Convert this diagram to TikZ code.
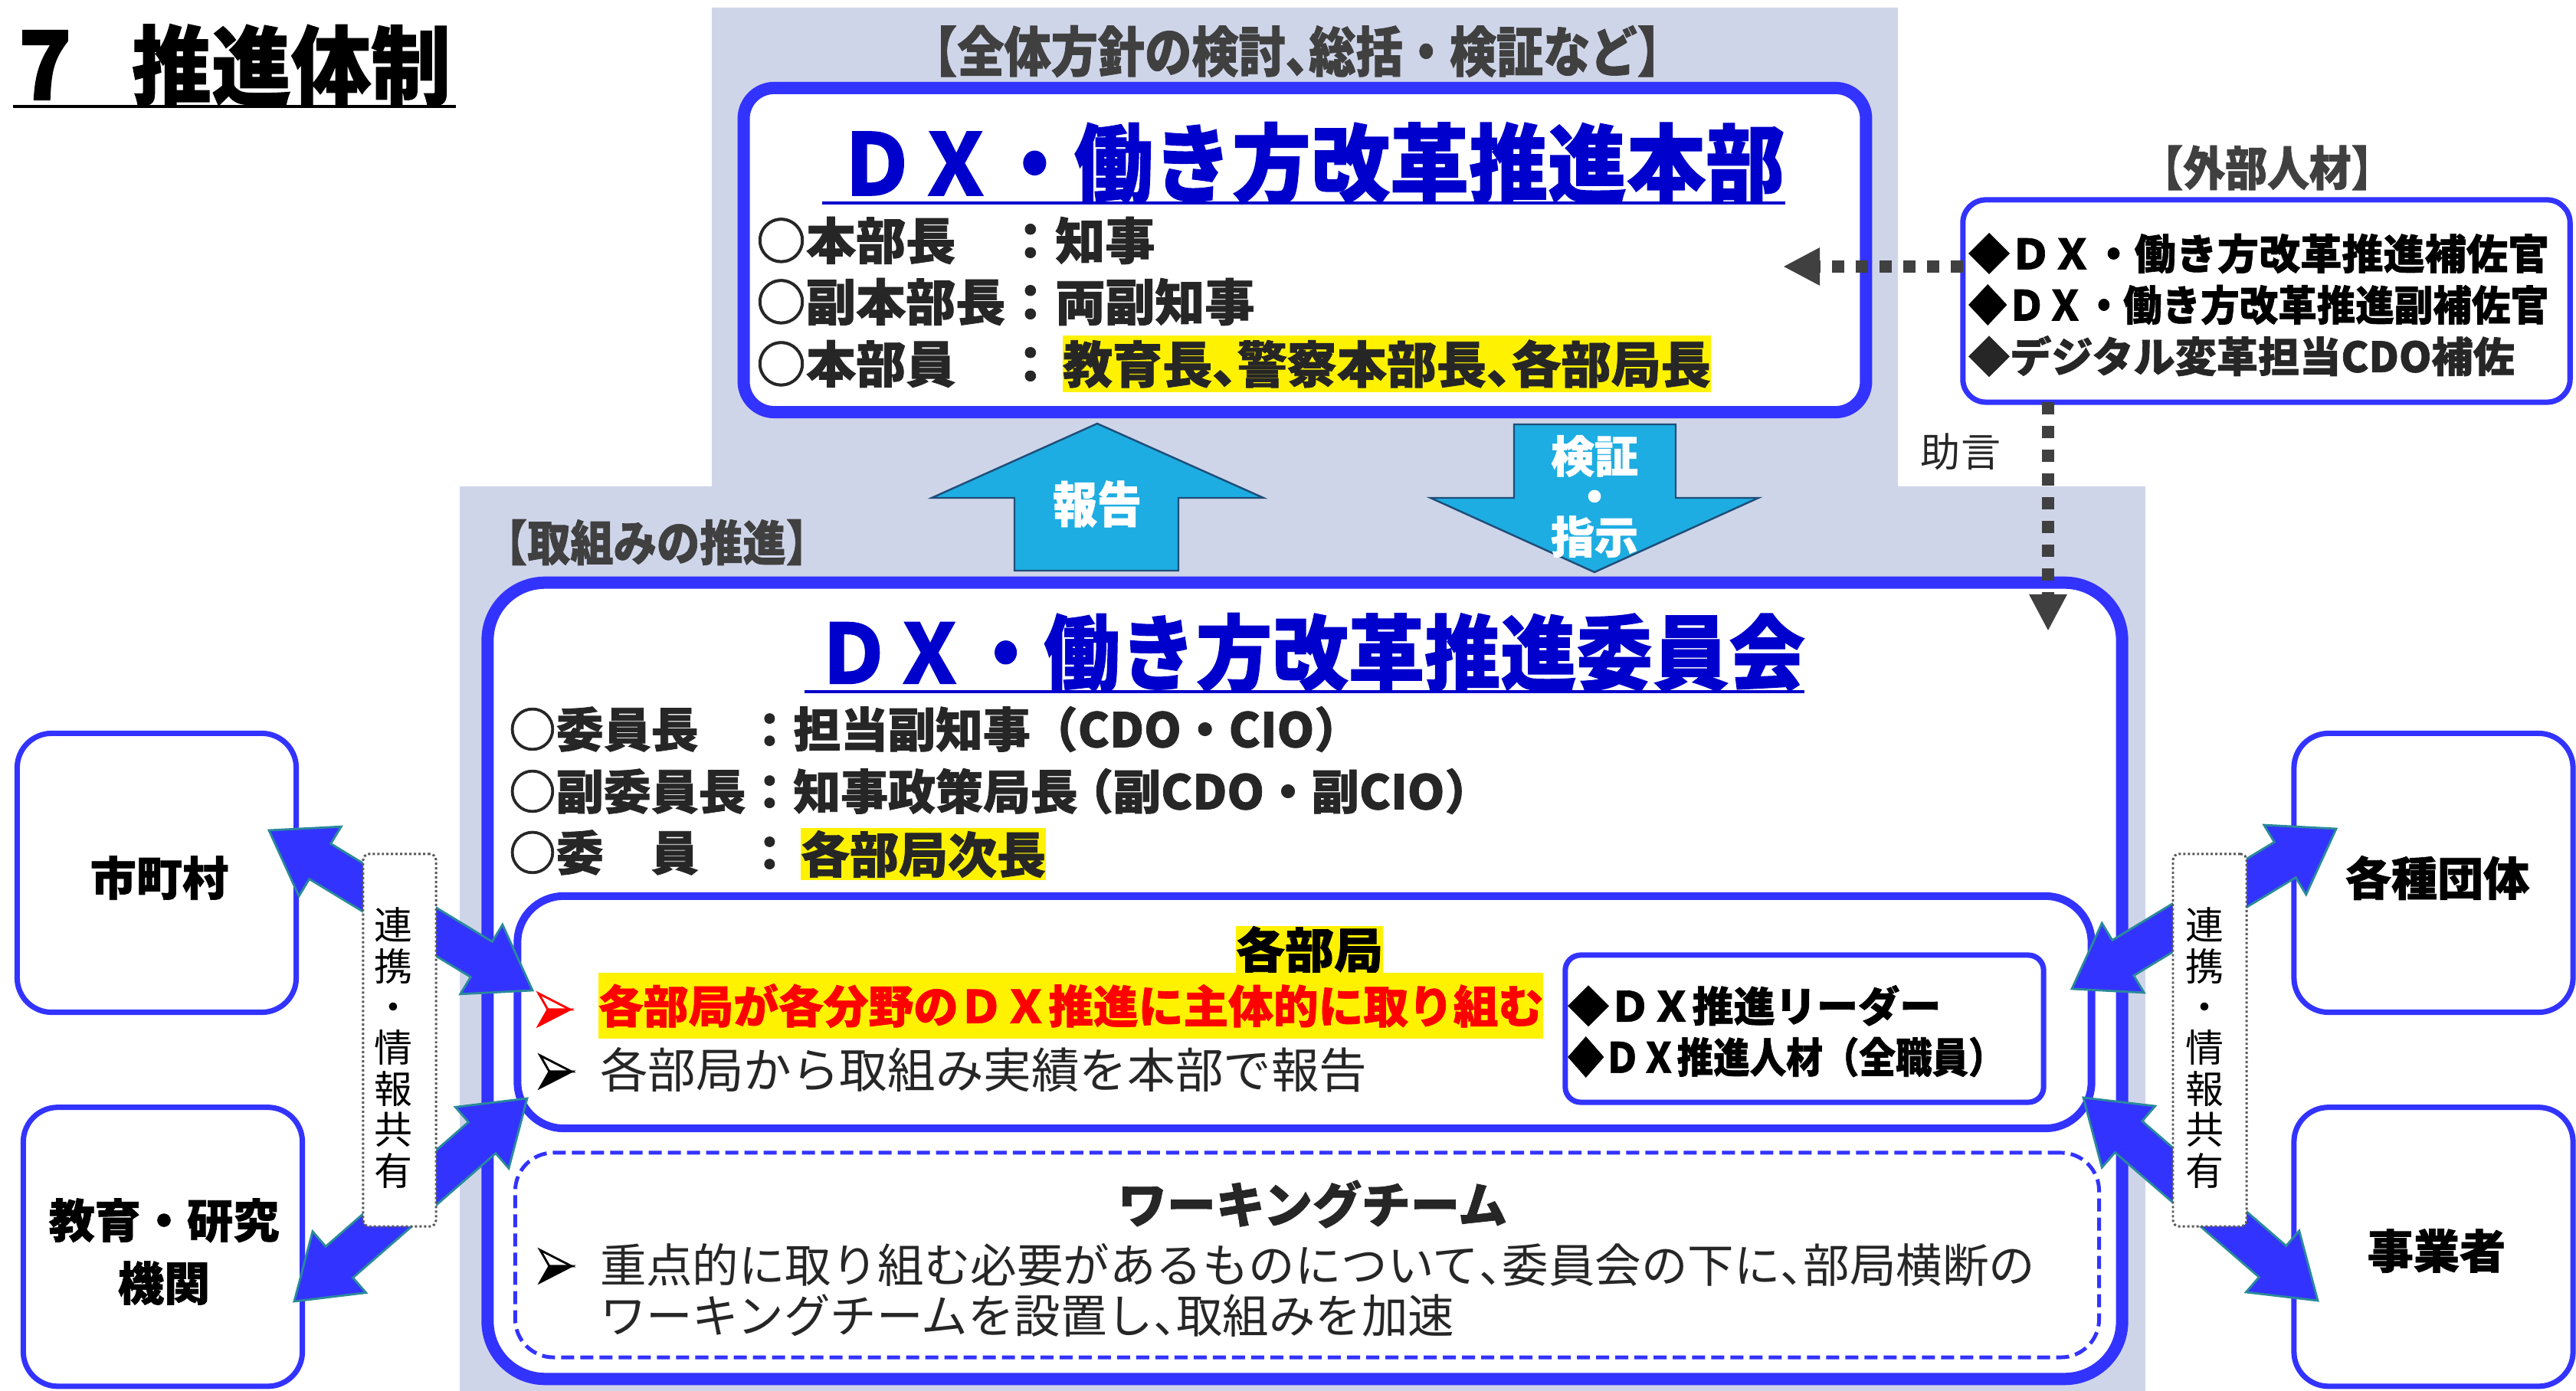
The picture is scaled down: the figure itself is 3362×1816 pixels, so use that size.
\documentclass[tikz,border=0pt]{standalone}
\usepackage{fontspec}
\setmainfont{Noto Sans CJK JP}[BoldFeatures={FakeBold=1.2}]
\usetikzlibrary{calc,arrows.meta}
\definecolor{bg}{HTML}{CFD5E9}
\definecolor{bblue}{HTML}{3333FF}
\definecolor{tblue}{HTML}{0000CC}
\definecolor{dgray}{HTML}{262626}
\definecolor{hgray}{HTML}{404040}
\definecolor{cyanarr}{HTML}{1DADE2}
\definecolor{cyanedge}{HTML}{1F4E79}
\definecolor{tealedge}{HTML}{2A8A9A}
\definecolor{lblgray}{HTML}{595959}
\newcommand\fs[1]{\fontsize{#1pt}{#1pt}\selectfont}
\newcommand\hc[1]{\makebox[0.5em][l]{#1}}
\newcommand\bul[3]{%
  \filldraw[draw=#3, fill=white, line width=0.8pt, line join=miter] (#1,#2-21) -- (#1+41,#2) -- (#1+12,#2) -- cycle;
  \filldraw[draw=#3, fill=#3, line width=0.8pt, line join=miter] (#1+12,#2) -- (#1+41,#2) -- (#1,#2+21) -- cycle;}
\newcommand\dblarrow[3]{%
  \coordinate (#1ha) at ($(#2)!0.78cm!(#3)$);
  \coordinate (#1hb) at ($(#3)!0.78cm!(#2)$);
  \filldraw[blockarrow] (#2) -- ($(#1ha)!0.53cm!90:(#3)$) -- ($(#1ha)!0.27cm!90:(#3)$)
    -- ($(#1hb)!0.27cm!-90:(#2)$) -- ($(#1hb)!0.53cm!-90:(#2)$) -- (#3)
    -- ($(#1hb)!0.53cm!90:(#2)$) -- ($(#1hb)!0.27cm!90:(#2)$)
    -- ($(#1ha)!0.27cm!-90:(#3)$) -- ($(#1ha)!0.53cm!-90:(#3)$) -- cycle;}
\begin{document}
\begin{tikzpicture}[x=0.01cm,y=-0.01cm,
  every node/.style={inner sep=0pt, outer sep=0pt},
  bigbox/.style={draw=bblue, line width=4.55pt, fill=white},
  midbox/.style={draw=bblue, line width=2.85pt, fill=white},
  thinbox/.style={draw=bblue, line width=2pt, fill=white},
  wtbox/.style={draw=bblue, line width=1.4pt, dash pattern=on 0.17cm off 0.08cm, fill=white, rounded corners=0.5cm},
  sidebox/.style={thinbox, rounded corners=0.45cm, minimum width=3.64cm, minimum height=3.64cm},
  lblbox/.style={draw=lblgray, line width=0.85pt, dash pattern=on 0.85pt off 0.85pt, fill=white, rounded corners=0.08cm, minimum height=4.86cm},
  dotarrow/.style={draw=hgray, line width=4.55pt, dash pattern=on 0.16cm off 0.15cm, -{Triangle[length=0.48cm,width=0.46cm]}},
  cyanarrow/.style={fill=cyanarr, draw=cyanedge, line width=0.7pt},
  blockarrow/.style={fill=bblue, draw=tealedge, line width=0.8pt, line join=miter},
  vlabel/.style={font=\fontsize{14.2pt}{15.2pt}\selectfont, align=center, text=black},
  side/.style={font=\bfseries\fs{17.1}, text=black},
  hdr/.style={font=\bfseries\fs{16.6}, text=hgray},
  hqline/.style={anchor=west, font=\bfseries\fs{18.5}, text=dgray},
  cmline/.style={anchor=west, font=\bfseries\fs{17.6}, text=dgray},
  ldline/.style={anchor=west, font=\bfseries\fs{15.4}, text=black},
  regline/.style={anchor=west, font=\fs{16.8}, text=dgray},
]
\useasboundingbox (0,0) rectangle (3362,1816);
% background
\fill[bg] (929,10) -- (2477,10) -- (2477,635) -- (2800,635) -- (2800,1816) -- (600,1816) -- (600,635) -- (929,635) -- cycle;

% title
\node[anchor=west, font=\bfseries\fs{29.6}] (t7) at (24,85) {\scalebox{1.1}[1.2]{7}};
\node[anchor=west, font=\bfseries\fs{29.6}] (ttl) at (172,85) {\scalebox{1}[1.08]{推進体制}};
\draw[line width=1.1pt] (17,139) -- (595,139);

% HQ
\node[hdr, font=\bfseries\fs{17.4}] (hdr1) at (1693,67) {\scalebox{1}[1.15]{【全体方針の検討\hc{、}総括・検証など】}};
\node[bigbox, rounded corners=0.4cm, minimum width=14.64cm, minimum height=4.23cm] (hq) at (1703,326.5) {};
\node[font=\bfseries\fs{29.3}, text=tblue] (hqt) at (1711,213) {\scalebox{1}[1.08]{ＤＸ・働き方改革推進本部}};
\draw[tblue, line width=1.4pt] (1073,265) -- (2330,265);
\node[hqline] (hq1) at (987,314) {○本部長　：知事};
\node[hqline] (hq2) at (987,394) {○副本部長：両副知事};
\node[hqline] (hq3) at (987,475) {○本部員　：};
\node[hqline, fill=yellow, inner ysep=1.5pt] (hq3b) at (1387,475) {教育長\hc{、}警察本部長\hc{、}各部局長};

% external
\node[hdr, font=\bfseries\fs{15.6}] (exth) at (2959,219) {\scalebox{1}[1.12]{【外部人材】}};
\node[thinbox, rounded corners=0.3cm, minimum width=7.92cm, minimum height=2.64cm] (ext) at (2958,393) {};
\node[ldline] (ex1) at (2569,331) {◆ＤＸ・働き方改革推進補佐官};
\node[ldline] (ex2) at (2569,398) {\scalebox{0.933}[1]{◆ＤＸ・働き方改革推進副補佐官}};
\node[ldline, text=dgray] (ex3) at (2569,465) {◆デジタル変革担当CDO補佐};
\node[font=\fs{14.8}, text=dgray] (adv) at (2559,590) {助言};

% report / verify arrows
\draw[cyanarrow] (1432,553) -- (1649,650) -- (1538,650) -- (1538,745) -- (1324,745) -- (1324,650) -- (1216,650) -- cycle;
\node[font=\bfseries\fs{16.5}, text=white] (rep) at (1432,658) {\scalebox{1}[1.1]{報告}};
\draw[cyanarrow] (1976,554) -- (2187,554) -- (2187,650) -- (2295,650) -- (2081,747) -- (1867,650) -- (1976,650) -- cycle;
\node[font=\bfseries\fontsize{16.2pt}{15pt}\selectfont, text=white, align=center] (ver) at (2081,648) {検証\\・\\指示};

% committee
\node[hdr, font=\bfseries\fs{16}] (prh) at (857,708) {\scalebox{1}[1.12]{【取組みの推進】}};
\node[bigbox, rounded corners=0.75cm, minimum width=21.32cm, minimum height=10.39cm] (cm) at (1703,1280.5) {};
\node[font=\bfseries\fs{28.25}, text=tblue] (cmt) at (1710,852) {\scalebox{1}[1.08]{ＤＸ・働き方改革推進委員会}};
\draw[tblue, line width=1.4pt] (1050,903) -- (2355,903);
\node[cmline] (cm1) at (664,952) {○委員長　：担当副知事（CDO・CIO）};
\node[cmline] (cm2) at (664,1033) {○副委員長：知事政策局長\makebox[0.75em][r]{（}副CDO・副CIO\makebox[0.75em][l]{）}};
\node[cmline] (cm3) at (664,1113) {○委　員　：};
\node[cmline, font=\bfseries\fs{18.2}, fill=yellow, inner ysep=1pt] (cm3b) at (1045,1115) {各部局次長};

% dotted arrows (external advisers)
\coordinate (hqin) at (2327,348);
\draw[dotarrow] (ext.west |- hqin) -- (hqin);
\coordinate (cmin) at (2673,824);
\draw[dotarrow] (ext.south -| cmin) -- (cmin);

% departments
\node[midbox, rounded corners=0.6cm, minimum width=20.53cm, minimum height=3.03cm] (bk) at (1702.5,1321.5) {};
\node[font=\bfseries\fs{18.2}, fill=yellow, text=black] (bkt) at (1709,1240) {各部局};
\bul{703}{1318}{red}
\node[anchor=west, font=\bfseries\fs{16.7}, text=red, fill=yellow, inner ysep=4pt] (bk1) at (781,1313) {各部局が各分野のＤＸ推進に主体的に取り組む};
\bul{705}{1399}{black}
\node[regline, font=\fs{17.8}] (bk2) at (783,1397) {各部局から取組み実績を本部で報告};
\node[thinbox, rounded corners=0.2cm, minimum width=6.24cm, minimum height=1.92cm] (ld) at (2355,1343) {};
\node[ldline] (ld1) at (2046,1313) {◆ＤＸ推進リーダー};
\node[ldline] (ld2) at (2046,1380) {\scalebox{0.878}[1]{◆ＤＸ推進人材（全職員）}};

% working team
\node[wtbox, minimum width=20.66cm, minimum height=2.67cm] (wt) at (1706,1638.5) {};
\node[font=\bfseries\fs{18.2}, text=dgray] (wtt) at (1713,1572) {ワーキングチーム};
\bul{705}{1653}{black}
\node[regline, font=\fs{17.2}] (wt1) at (783,1652) {重点的に取り組む必要があるものについて\hc{、}委員会の下に\hc{、}部局横断の};
\node[regline, font=\fs{17.2}] (wt2) at (783,1718) {ワーキングチームを設置し\hc{、}取組みを加速};

% side boxes
\node[sidebox] (munb) at (204.5,1139.5) {};
\node[side] (mun) at (208,1146) {市町村};
\node[sidebox] (edub) at (212.5,1627.75) {};
\node[side, align=center, font=\bfseries\fontsize{17.1pt}{23.3pt}\selectfont] (edu) at (214,1634) {教育・研究\\機関};
\node[sidebox] (grpb) at (3176,1139.5) {};
\node[side] (grp) at (3181,1146) {各種団体};
\node[sidebox] (bizb) at (3176,1627.75) {};
\node[side] (biz) at (3180,1633) {事業者};

% block arrows
\coordinate (luA) at (351,1084); \coordinate (luB) at (695,1293);
\coordinate (llA) at (688,1434); \coordinate (llB) at (384,1699);
\coordinate (ruA) at (3049,1082); \coordinate (ruB) at (2704,1291);
\coordinate (rlA) at (2719,1433); \coordinate (rlB) at (3025,1698);
\dblarrow{lu}{luA}{luB}
\dblarrow{ll}{llA}{llB}
\dblarrow{ru}{ruA}{ruB}
\dblarrow{rl}{rlA}{rlB}

% labels
\node[lblbox, minimum width=0.95cm] (lbx) at (521.5,1358) {};
\node[vlabel] (lbl) at (513,1368) {連\\携\\・\\情\\報\\共\\有};
\node[lblbox, minimum width=0.96cm] (rbx) at (2884,1358) {};
\node[vlabel] (rbl) at (2877,1368) {連\\携\\・\\情\\報\\共\\有};
\end{tikzpicture}
\end{document}
